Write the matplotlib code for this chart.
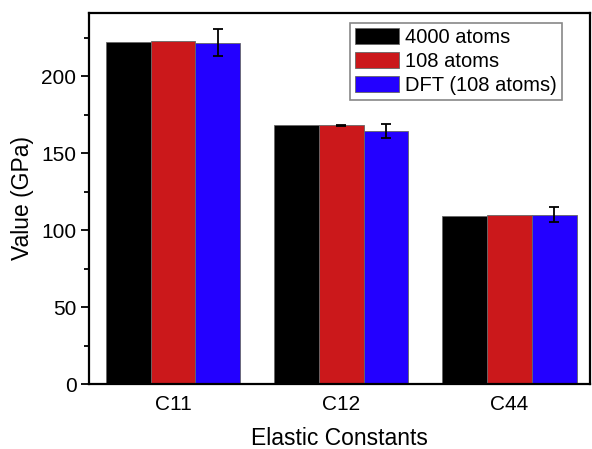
import matplotlib
matplotlib.use("Agg")
import matplotlib.pyplot as plt
import numpy as np
from matplotlib.ticker import MultipleLocator

categories = ["C11", "C12", "C44"]
series_names = ["4000 atoms", "108 atoms", "DFT (108 atoms)"]
values_4000 = [222.0, 168.0, 109.4]
values_108 = [222.8, 168.1, 109.9]
values_dft = [221.7, 164.3, 110.0]
err_4000 = [0.0, 0.0, 0.0]
err_108 = [0.0, 0.3, 0.0]
err_dft = [8.6, 4.7, 5.0]
colors = ["#000000", "#CB181B", "#2300FF"]

plt.rcParams['font.family'] = ['Liberation Sans', 'DejaVu Sans']

fig = plt.figure(figsize=(5.92, 4.49), dpi=100)
ax = fig.add_axes([89/592, 1 - 384/449, (590-89)/592, (384-13)/449])

x = np.arange(len(categories))
w = 0.8 / 3
series = [values_4000, values_108, values_dft]
errs = [err_4000, err_108, err_dft]
for i, (vals, er, c, name) in enumerate(zip(series, errs, colors, series_names)):
    pos = x + (i - 1) * w
    ax.bar(pos, vals, width=w, color=c, edgecolor="#666666", linewidth=0.6, label=name, zorder=2)
    er_arr = np.array(er)
    mask = er_arr > 0
    if mask.any():
        ax.errorbar(pos[mask], np.array(vals)[mask], yerr=er_arr[mask], fmt='none',
                    ecolor='black', elinewidth=1.3, capsize=3.5, capthick=1.3, zorder=3)

ax.set_xlim(-0.5, 2.48)
ax.set_ylim(0, 241)
ax.set_xticks(x)
ax.set_xticklabels(categories)
ax.yaxis.set_major_locator(MultipleLocator(50))
ax.yaxis.set_minor_locator(MultipleLocator(25))
ax.tick_params(axis='y', which='major', direction='out', length=6, width=1.3, labelsize=15, pad=3)
ax.tick_params(axis='y', which='minor', direction='out', length=3.5, width=1.3)
ax.tick_params(axis='x', which='both', length=0, labelsize=15, pad=8)
ax.tick_params(right=False, top=False)
for s in ax.spines.values():
    s.set_linewidth(1.6)

ax.set_xlabel("Elastic Constants", fontsize=16.5, labelpad=9)
ax.set_ylabel("Value (GPa)", fontsize=16.5, labelpad=5)

leg = ax.legend(loc='upper right', bbox_to_anchor=(0.944, 0.973), borderaxespad=0,
                fontsize=14.5, handlelength=2.2, handleheight=0.85, handletextpad=0.3,
                labelspacing=0.25, borderpad=0.25, fancybox=False, framealpha=1,
                edgecolor='#888888')
leg.get_frame().set_linewidth(1.2)

fig.savefig("out.png", dpi=100)
